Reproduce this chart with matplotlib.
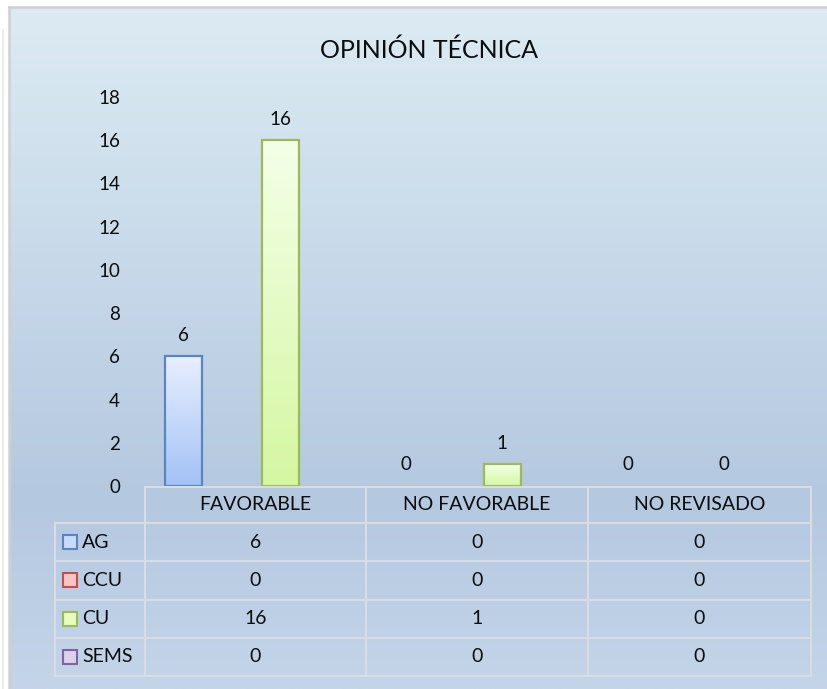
import numpy as np
import matplotlib
matplotlib.use("Agg")
import matplotlib.pyplot as plt
from matplotlib.colors import LinearSegmentedColormap
from matplotlib.patches import Rectangle

categories = ["FAVORABLE", "NO FAVORABLE", "NO REVISADO"]
series = ["AG", "CCU", "CU", "SEMS"]
ag = [6, 0, 0]
ccu = [0, 0, 0]
cu = [16, 1, 0]
sems = [0, 0, 0]
labelled = ["AG", "CU"]
yticks = list(range(0, 19, 2))

values = {"AG": ag, "CCU": ccu, "CU": cu, "SEMS": sems}
# (top colour, bottom colour, edge colour, legend fill)
styles = {
    "AG": ("#e8efff", "#a3c2f5", "#5a85c0", "#c9daf8"),
    "CCU": ("#ffe6e6", "#f5a3a3", "#c0504d", "#f7c5c5"),
    "CU": ("#f4ffe8", "#d5f7a2", "#9bbb59", "#e6fbc0"),
    "SEMS": ("#f0e8f8", "#cbb8e3", "#8064a2", "#dcd0ec"),
}

plt.rcParams["font.family"] = ["Lato", "DejaVu Sans"]
TXT = "#0d0d0d"

W, H = 828, 689
fig = plt.figure(figsize=(W / 100, H / 100), dpi=100)

# chart area background gradient
bg = fig.add_axes([10 / W, 0, 1 - 10 / W, 1 - 8 / H])
bg.axis("off")
bg_cmap = LinearSegmentedColormap.from_list(
    "bg", [(0, "#dcebf3"), (0.72, "#b4c8e0"), (1, "#c4d5e9")])
bg.imshow(np.linspace(0, 1, 256).reshape(-1, 1), cmap=bg_cmap,
          aspect="auto", extent=[0, 1, 0, 1])

# plot area
ax = fig.add_axes([145 / W, 1 - 486 / H, (811 - 145) / W, (486 - 97) / H])
ax.set_facecolor("none")
x = np.arange(len(categories))
step, width = 0.217, 0.167
for i, name in enumerate(series):
    top, bottom, edge, _ = styles[name]
    pos = x + (i - 1.5) * step
    bars = ax.bar(pos, values[name], width, color="none", edgecolor=edge,
                  linewidth=1.6, zorder=3)
    cmap = LinearSegmentedColormap.from_list(name, [bottom, top])
    for b, v in zip(bars, values[name]):
        if v > 0:
            im = ax.imshow(np.linspace(1, 0, 64).reshape(-1, 1), cmap=cmap,
                           aspect="auto", zorder=2,
                           extent=[b.get_x(), b.get_x() + b.get_width(), 0, v])
            im.set_clip_path(b)
        else:
            b.set_visible(False)
        if name in labelled:
            ax.annotate(str(v), (b.get_x() + b.get_width() / 2, v),
                        xytext=(0, 9), textcoords="offset points",
                        ha="center", va="bottom", fontsize=13.5, color=TXT)

ax.set_xlim(-0.5, 2.5)
ax.set_ylim(0, 18)
ax.set_yticks(yticks)
ax.set_xticks([])
ax.tick_params(axis="y", length=0, pad=18, labelsize=13.5, labelcolor=TXT)
for s in ax.spines.values():
    s.set_visible(False)

fig.text(429 / W, 1 - 50 / H, "OPINIÓN TÉCNICA", ha="center", va="center",
         fontsize=18, color=TXT)

# data table drawn in pixel coordinates
tab = fig.add_axes([0, 0, 1, 1])
tab.set_xlim(0, W)
tab.set_ylim(H, 0)
tab.axis("off")
col_edges = [145, 366, 588, 811]
leg_left = 55
head_top, head_bot = 487, 523
row_h = 38.25
rows_bottom = head_bot + row_h * len(series)
lc, lw = "#d9dde2", 1.5

tab.plot([col_edges[0], col_edges[-1]], [head_top, head_top], color=lc, lw=lw)
for r in range(len(series) + 1):
    yy = head_bot + r * row_h
    tab.plot([leg_left, col_edges[-1]], [yy, yy], color=lc, lw=lw)
for xe in col_edges:
    tab.plot([xe, xe], [head_top, rows_bottom], color=lc, lw=lw)
tab.plot([leg_left, leg_left], [head_bot, rows_bottom], color=lc, lw=lw)

for j, cat in enumerate(categories):
    cx = (col_edges[j] + col_edges[j + 1]) / 2
    tab.text(cx, (head_top + head_bot) / 2, cat, ha="center", va="center",
             fontsize=14, color=TXT)
for r, name in enumerate(series):
    cy = head_bot + (r + 0.5) * row_h
    _, _, edge, fill = styles[name]
    tab.add_patch(Rectangle((63, cy - 7), 14, 14, facecolor=fill,
                            edgecolor=edge, lw=1.5))
    tab.text(82, cy, name, ha="left", va="center", fontsize=14, color=TXT)
    for j, v in enumerate(values[name]):
        cx = (col_edges[j] + col_edges[j + 1]) / 2
        tab.text(cx, cy, str(v), ha="center", va="center", fontsize=14,
                 color=TXT)

# outer frame
tab.plot([9, 9], [7, H], color="#d0d0d0", lw=1.8)
tab.plot([9, W], [7, 7], color="#d0d0d0", lw=1.8)
tab.plot([3, 3], [30, H], color="#ececec", lw=1.5)

fig.savefig("out.png", dpi=100)
